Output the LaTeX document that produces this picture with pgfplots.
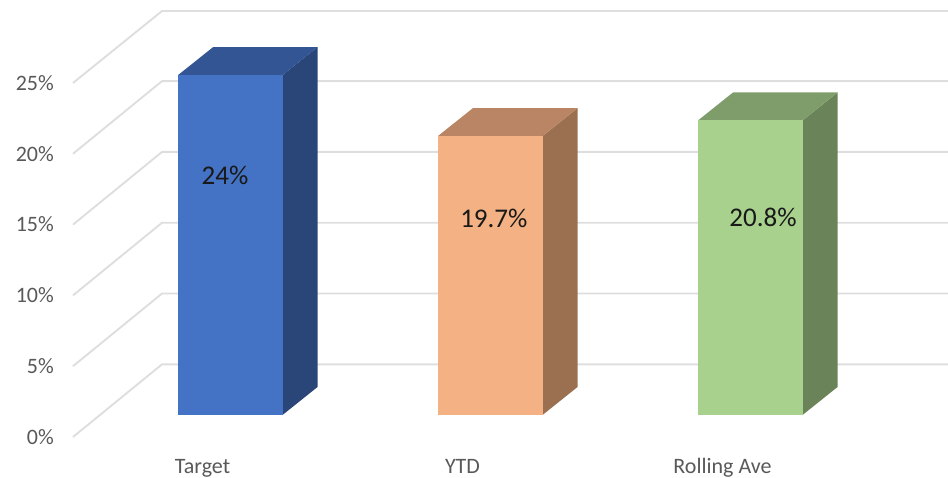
\documentclass[border=0pt]{standalone}
\usepackage{fontspec}
\usepackage{pgfplots}
\pgfplotsset{compat=1.18}
\setmainfont{Carlito}
\definecolor{gridc}{HTML}{DEDEDE}
\definecolor{tickc}{HTML}{595959}
\definecolor{bluef}{HTML}{4472C4}
\definecolor{bluet}{HTML}{335593}
\definecolor{blues}{HTML}{2A4679}
\definecolor{orangef}{HTML}{F4B183}
\definecolor{oranget}{HTML}{B98565}
\definecolor{oranges}{HTML}{9A7050}
\definecolor{greenf}{HTML}{A9D18E}
\definecolor{greent}{HTML}{7F9D6B}
\definecolor{greens}{HTML}{6A8358}
\begin{document}
\begin{tikzpicture}[x=1pt,y=1pt]
\path[use as bounding box] (0,0) rectangle (948,477);
% wall and gridlines, in pixels across and per cent up
\begin{axis}[
  at={(55pt,0pt)}, anchor=south west,
  scale only axis, width=893pt, height=477pt,
  xmin=55, xmax=948, ymin=-2.825, ymax=30.86,
  axis line style={draw=none}, tick style={draw=none},
  xtick=\empty,
  ytick={0,5,10,15,20,25},
  yticklabels={0\%,5\%,10\%,15\%,20\%,25\%},
  yticklabel style={text=tickc,font=\fontsize{22}{26}\selectfont,inner sep=0pt,xshift=-1pt},
  clip=false,
]
\addplot[gridc,line width=1.9pt] coordinates {(73,0) (162,5.13) (948,5.13)};
\addplot[gridc,line width=1.9pt] coordinates {(73,5) (162,10.13) (948,10.13)};
\addplot[gridc,line width=1.9pt] coordinates {(73,10) (162,15.13) (948,15.13)};
\addplot[gridc,line width=1.9pt] coordinates {(73,15) (162,20.13) (948,20.13)};
\addplot[gridc,line width=1.9pt] coordinates {(73,20) (162,25.13) (948,25.13)};
\addplot[gridc,line width=1.9pt] coordinates {(73,25) (162,30.08) (948,30.08)};
\end{axis}
% bars
\begin{axis}[
  at={(0pt,25pt)}, anchor=south west,
  scale only axis, width=948pt, height=452pt,
  xmin=-0.8865, xmax=2.7596, ymin=-2.613, ymax=29.308,
  axis line style={draw=none}, tick style={draw=none},
  ytick=\empty,
  xtick={0,1,2},
  xticklabels={Target,YTD,Rolling Ave},
  xticklabel style={text=tickc,font=\fontsize{22}{26}\selectfont,xshift=-28pt,yshift=-5pt,inner sep=0pt,text height=16pt,text depth=3.5pt},
  clip=false,
]
% Target
\addplot[fill=blues,draw=none] coordinates {(0.2,0) (0.335,1.98) (0.335,25.98) (0.2,24)} --cycle;
\addplot[fill=bluet,draw=none] coordinates {(-0.202,24) (-0.067,25.98) (0.335,25.98) (0.2,24)} --cycle;
\addplot[ybar,bar width=104.5pt,bar shift=0pt,fill=bluef,draw=none] coordinates {(0,24)};
% YTD
\addplot[fill=oranges,draw=none] coordinates {(1.2,0) (1.335,1.98) (1.335,21.68) (1.2,19.7)} --cycle;
\addplot[fill=oranget,draw=none] coordinates {(0.798,19.7) (0.933,21.68) (1.335,21.68) (1.2,19.7)} --cycle;
\addplot[ybar,bar width=104.5pt,bar shift=0pt,fill=orangef,draw=none] coordinates {(1,19.7)};
% Rolling Ave
\addplot[fill=greens,draw=none] coordinates {(2.2,0) (2.335,1.98) (2.335,22.78) (2.2,20.8)} --cycle;
\addplot[fill=greent,draw=none] coordinates {(1.798,20.8) (1.933,22.78) (2.335,22.78) (2.2,20.8)} --cycle;
\addplot[ybar,bar width=104.5pt,bar shift=0pt,fill=greenf,draw=none] coordinates {(2,20.8)};
\node[font=\fontsize{27}{32}\selectfont,text=black!90] at (axis cs:-0.021,16.95) {24\%};
\node[font=\fontsize{27}{32}\selectfont,text=black!90] at (axis cs:1.013,13.91) {19.7\%};
\node[font=\fontsize{27}{32}\selectfont,text=black!90] at (axis cs:2.048,13.98) {20.8\%};
\end{axis}
\end{tikzpicture}
\end{document}
